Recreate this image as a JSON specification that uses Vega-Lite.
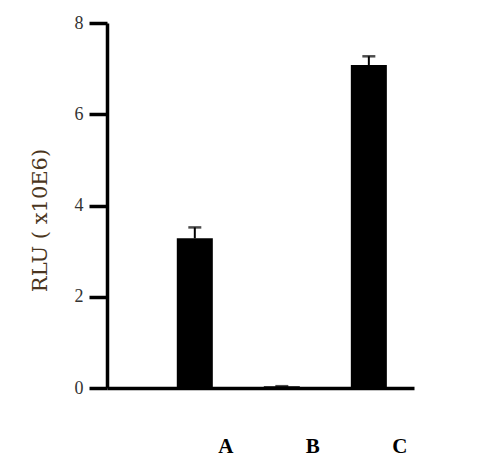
{
  "$schema": "https://vega.github.io/schema/vega-lite/v6.json",
  "autosize": "none",
  "padding": {"left": 107, "top": 23, "right": 69, "bottom": 78},
  "width": 307,
  "height": 365,
  "background": "white",
  "data": {
    "values": [
      {"group": "A", "rlu": 3.28, "hi": 3.52},
      {"group": "B", "rlu": 0.04, "hi": 0.04},
      {"group": "C", "rlu": 7.08, "hi": 7.27}
    ]
  },
  "encoding": {
    "x": {
      "field": "group",
      "type": "nominal",
      "sort": ["A", "B", "C"],
      "scale": {"paddingInner": 0.586, "paddingOuter": 0.557, "align": 0.72},
      "axis": {
        "title": null,
        "labelAngle": 0,
        "ticks": false,
        "domainColor": "black",
        "domainWidth": 3.5,
        "labelFont": "Liberation Serif",
        "labelFontWeight": "bold",
        "labelFontSize": 21,
        "labelColor": "black",
        "labelOffset": 31,
        "labelPadding": 47
      }
    }
  },
  "layer": [
    {
      "mark": {"type": "rule", "color": "black", "strokeWidth": 2},
      "encoding": {
        "y": {"field": "rlu", "type": "quantitative"},
        "y2": {"field": "hi"}
      }
    },
    {
      "mark": {"type": "tick", "color": "black", "size": 13, "thickness": 2.5},
      "encoding": {
        "y": {"field": "hi", "type": "quantitative"}
      }
    },
    {
      "mark": {"type": "bar", "color": "black", "width": {"band": 1}},
      "encoding": {
        "y": {
          "field": "rlu",
          "type": "quantitative",
          "scale": {"domain": [0, 8], "nice": false},
          "axis": {
            "title": "RLU ( x10E6)",
            "titleFont": "DejaVu Serif",
            "titleFontSize": 21,
            "titleFontWeight": "normal",
            "titleColor": "#4a3520",
            "titleAngle": -90,
            "titleAlign": "center",
            "titleBaseline": "middle",
            "titleX": -67,
            "titleY": 197,
            "values": [0, 2, 4, 6, 8],
            "grid": false,
            "domainColor": "black",
            "domainWidth": 3.5,
            "tickColor": "black",
            "tickWidth": 3.5,
            "tickSize": 18,
            "labelFont": "Liberation Serif",
            "labelFontSize": 18,
            "labelColor": "#333333",
            "labelPadding": 6
          }
        }
      }
    }
  ],
  "config": {
    "view": {"stroke": null}
  }
}
